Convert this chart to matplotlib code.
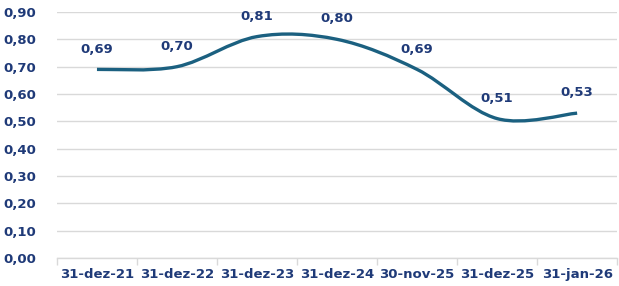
import numpy as np
import matplotlib.pyplot as plt
from matplotlib.path import Path
from matplotlib.patches import PathPatch

# data
dates = ['31-dez-21', '31-dez-22', '31-dez-23', '31-dez-24', '30-nov-25', '31-dez-25', '31-jan-26']
values = [0.69, 0.70, 0.81, 0.80, 0.69, 0.51, 0.53]

line_col = '#1B6080'
text_col = '#1F3A78'
grid_col = '#D9D9D9'

plt.rcParams['font.family'] = ['DejaVu Sans']

fig = plt.figure(figsize=(6.19, 2.86), dpi=100)
ax = fig.add_axes([0.092, 0.098, 0.905, 0.860])

x = np.arange(len(values), dtype=float)
y = np.array(values)

# smoothed line (excel style) built as cubic bezier segments through the points
verts = [(x[0], y[0])]
codes = [Path.MOVETO]
n = len(x)
for i in range(n - 1):
    i0 = max(i - 1, 0)
    i3 = min(i + 2, n - 1)
    c1 = (x[i] + (x[i + 1] - x[i0]) / 6, y[i] + (y[i + 1] - y[i0]) / 6)
    c2 = (x[i + 1] - (x[i3] - x[i]) / 6, y[i + 1] - (y[i3] - y[i]) / 6)
    verts += [c1, c2, (x[i + 1], y[i + 1])]
    codes += [Path.CURVE4] * 3
ax.add_patch(PathPatch(Path(verts, codes), facecolor='none', edgecolor=line_col,
                       lw=2.4, capstyle='butt', zorder=3))

for xi, yi in zip(x, y):
    ax.annotate(f'{yi:.2f}'.replace('.', ','), (xi, yi), xytext=(0, 10),
                textcoords='offset points', ha='center', va='bottom',
                fontsize=9.5, fontweight='bold', color=text_col)

ax.set_xlim(-0.5, n - 0.5)
ax.set_ylim(0, 0.9)
ax.set_yticks(np.arange(0, 0.91, 0.1))
ax.set_yticklabels([f'{v:.2f}'.replace('.', ',') for v in np.arange(0, 0.91, 0.1)])
ax.set_xticks(x)
ax.set_xticklabels(dates)
ax.set_xticks(np.arange(-0.5, n, 1.0), minor=True)

ax.grid(axis='y', color=grid_col, lw=1)
ax.set_axisbelow(True)
for s in ['top', 'right', 'left']:
    ax.spines[s].set_visible(False)
ax.spines['bottom'].set_color(grid_col)
ax.spines['bottom'].set_linewidth(1)

ax.tick_params(axis='y', length=0, pad=15)
ax.tick_params(axis='x', which='major', length=0, pad=7)
ax.tick_params(axis='x', which='minor', length=5, color=grid_col, width=1)
for lab in ax.get_xticklabels() + ax.get_yticklabels():
    lab.set_fontsize(9.5)
    lab.set_fontweight('bold')
    lab.set_color(text_col)

fig.savefig('out.png', dpi=100, facecolor='white')
